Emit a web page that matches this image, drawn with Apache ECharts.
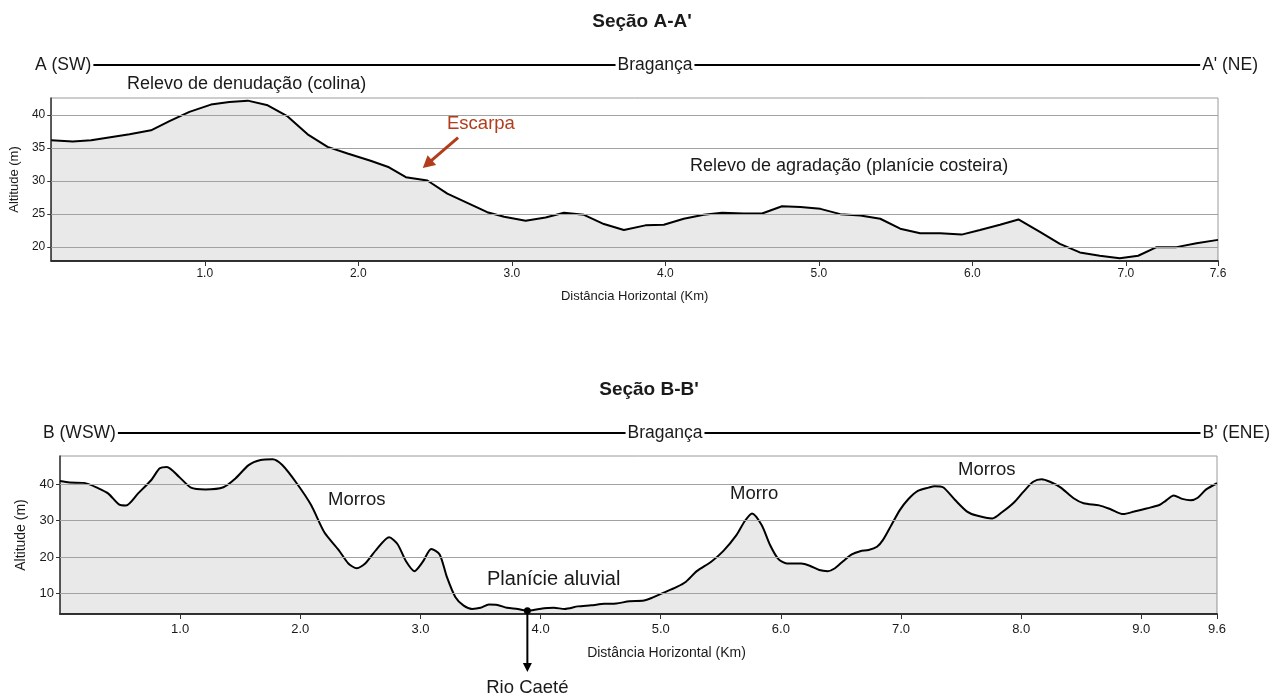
<!DOCTYPE html>
<html>
<head>
<meta charset="utf-8">
<script src="https://cdn.jsdelivr.net/npm/echarts@6/dist/echarts.min.js"></script>
<style>
  html, body { margin: 0; padding: 0; background: #ffffff; }
  #chart { width: 1288px; height: 698px; }
</style>
</head>
<body>
<div id="chart"></div>
<script>
// ---- Seção A-A' : distance (km) and altitude (m) along the profile ----
const sectionA_km = [0.00, 0.14, 0.26, 0.51, 0.65, 0.77, 0.90, 1.04, 1.16, 1.28, 1.41, 1.54, 1.67, 1.80, 1.93,
  2.08, 2.20, 2.31, 2.45, 2.58, 2.71, 2.84, 2.95, 3.09, 3.22, 3.34, 3.47, 3.60, 3.73, 3.87, 3.99, 4.12, 4.25,
  4.37, 4.51, 4.63, 4.76, 4.88, 5.01, 5.14, 5.27, 5.40, 5.53, 5.66, 5.79, 5.93, 6.05, 6.18, 6.30, 6.44, 6.57,
  6.70, 6.83, 6.96, 7.08, 7.20, 7.33, 7.46, 7.60];
const sectionA_alt = [36.2, 36.0, 36.2, 37.1, 37.7, 39.1, 40.5, 41.6, 42.0, 42.2, 41.5, 39.8, 37.1, 35.2, 34.2,
  33.1, 32.1, 30.6, 30.1, 28.1, 26.7, 25.3, 24.6, 24.0, 24.5, 25.2, 24.9, 23.5, 22.6, 23.3, 23.4, 24.3, 24.9,
  25.2, 25.1, 25.1, 26.2, 26.1, 25.8, 25.0, 24.8, 24.3, 22.8, 22.1, 22.1, 21.9, 22.6, 23.4, 24.2, 22.3, 20.5,
  19.2, 18.7, 18.3, 18.7, 20.0, 20.0, 20.6, 21.1];
const sectionA_xTicks = [1.0, 2.0, 3.0, 4.0, 5.0, 6.0, 7.0, 7.6];
const sectionA_yTicks = [20, 25, 30, 35, 40];
const sectionA_xRange = [0, 7.6];
const sectionA_yRange = [17.9, 42.6];
const escarpaArrow = [[2.65, 36.6], [2.42, 32.0]];   // tail, head (km, m)

// ---- Seção B-B' ----
const sectionB_km = [0.00, 0.08, 0.20, 0.32, 0.40, 0.49, 0.55, 0.65, 0.76, 0.83, 0.89, 0.99, 1.09, 1.21, 1.36,
  1.46, 1.57, 1.67, 1.77, 1.85, 1.97, 2.09, 2.20, 2.32, 2.40, 2.47, 2.54, 2.63, 2.74, 2.81, 2.88, 2.95, 3.02,
  3.09, 3.16, 3.22, 3.29, 3.36, 3.43, 3.50, 3.57, 3.64, 3.72, 3.81, 3.89, 3.99, 4.11, 4.20, 4.31, 4.42, 4.53,
  4.63, 4.74, 4.86, 4.93, 5.02, 5.13, 5.21, 5.30, 5.42, 5.52, 5.63, 5.70, 5.76, 5.84, 5.91, 5.98, 6.05, 6.17,
  6.24, 6.32, 6.39, 6.45, 6.52, 6.59, 6.66, 6.73, 6.80, 6.85, 6.92, 6.99, 7.06, 7.14, 7.23, 7.28, 7.35, 7.45,
  7.55, 7.63, 7.76, 7.84, 7.94, 8.02, 8.10, 8.17, 8.24, 8.33, 8.44, 8.52, 8.65, 8.74, 8.85, 8.94, 9.05, 9.15,
  9.20, 9.27, 9.34, 9.41, 9.47, 9.54, 9.63];
const sectionB_alt = [40.9, 40.5, 40.4, 38.9, 37.5, 34.5, 34.2, 37.5, 41.2, 44.4, 44.8, 42.1, 39.1, 38.6, 39.2,
  41.6, 45.3, 46.7, 46.9, 45.3, 40.3, 34.3, 26.8, 21.9, 18.2, 16.9, 18.2, 21.9, 25.4, 23.5, 18.8, 16.1, 18.7,
  22.2, 20.7, 14.5, 9.0, 6.6, 5.7, 6.0, 6.9, 6.8, 6.0, 5.7, 5.2, 5.7, 6.0, 5.7, 6.4, 6.7, 7.1,
  7.2, 7.8, 8.0, 8.8, 10.1, 11.7, 13.2, 16.1, 18.7, 21.6, 26.0, 29.9, 32.0, 28.8, 23.3, 19.4, 18.2, 18.2,
  17.6, 16.4, 16.1, 16.9, 18.9, 20.7, 21.6, 21.9, 22.8, 24.7, 28.8, 32.9, 35.9, 38.2, 39.1, 39.5, 39.2, 35.7,
  32.5, 31.4, 30.6, 32.3, 35.0, 38.0, 40.7, 41.4, 40.7, 39.1, 36.1, 34.8, 34.2, 33.2, 31.8, 32.5, 33.4, 34.3,
  35.4, 36.9, 36.0, 35.6, 36.3, 38.6, 40.3];
const sectionB_xTicks = [1.0, 2.0, 3.0, 4.0, 5.0, 6.0, 7.0, 8.0, 9.0, 9.63];
const sectionB_yTicks = [10, 20, 30, 40];
const sectionB_xRange = [0, 9.63];
const sectionB_yRange = [4.3, 47.8];
const rioCaete = [3.89, 5.2];   // river channel on the B-B' profile

const FONT = '"Liberation Sans", Arial, sans-serif';
const TEXT = '#1a1a1a';

function pairs(xs, ys) { return xs.map((x, i) => [x, ys[i]]); }

function xAxisFor(gi, range, ticks, fs, margin, gap, pad) {
  return {
    type: 'value', gridIndex: gi, min: range[0], max: range[1],
    name: 'Distância Horizontal (Km)', nameLocation: 'middle', nameGap: gap,
    nameTextStyle: { fontFamily: FONT, fontSize: fs + 1, color: TEXT, padding: pad },
    axisLine: { show: true, onZero: false, lineStyle: { color: '#333', width: 2 } },
    axisTick: { show: true, customValues: ticks, length: 5, lineStyle: { color: '#333', width: 1 } },
    axisLabel: { customValues: ticks, fontFamily: FONT, fontSize: fs, color: TEXT, margin: margin,
      formatter: v => v.toFixed(1) },
    splitLine: { show: false }
  };
}

function yAxisFor(gi, range, ticks, fs, gap) {
  return {
    type: 'value', gridIndex: gi, min: range[0], max: range[1],
    name: 'Altitude (m)', nameLocation: 'middle', nameGap: gap, nameRotate: 90,
    nameTextStyle: { fontFamily: FONT, fontSize: fs + 1, color: TEXT },
    axisLine: { show: true, lineStyle: { color: '#333', width: 1.5 } },
    axisTick: { show: true, customValues: ticks, length: 4, lineStyle: { color: '#333', width: 1 } },
    axisLabel: { customValues: ticks, fontFamily: FONT, fontSize: fs, color: TEXT, margin: 6 },
    splitLine: { show: false }
  };
}

function profileSeries(gi, xs, ys, ticks, smooth) {
  return {
    type: 'line', xAxisIndex: gi, yAxisIndex: gi,
    data: pairs(xs, ys), showSymbol: false, smooth: smooth,
    lineStyle: { color: '#000', width: 2 },
    areaStyle: { color: 'rgba(0,0,0,0.125)', origin: 'start' },
    silent: true, animation: false,
    markLine: {
      silent: true, symbol: 'none', animation: false,
      label: { show: false },
      lineStyle: { type: 'solid', color: '#a2a2a2', width: 1.2 },
      data: ticks.map(v => ({ yAxis: v }))
    },
    z: 3
  };
}

const chart = echarts.init(document.getElementById('chart'), null, { renderer: 'canvas' });

chart.setOption({
  backgroundColor: '#ffffff',
  animation: false,
  grid: [
    { left: 51, top: 98, width: 1167, height: 163, show: true, borderColor: '#9a9a9a', borderWidth: 1, backgroundColor: 'transparent' },
    { left: 60, top: 456, width: 1157, height: 158, show: true, borderColor: '#9a9a9a', borderWidth: 1, backgroundColor: 'transparent' }
  ],
  xAxis: [
    xAxisFor(0, sectionA_xRange, sectionA_xTicks, 12, 7, 29, [0, 0, 0, 0]),
    xAxisFor(1, sectionB_xRange, sectionB_xTicks, 13, 9, 32, [0, 0, 0, 56])
  ],
  yAxis: [
    yAxisFor(0, sectionA_yRange, sectionA_yTicks, 12, 27),
    yAxisFor(1, sectionB_yRange, sectionB_yTicks, 13, 28)
  ],
  series: [
    profileSeries(0, sectionA_km, sectionA_alt, sectionA_yTicks, false),
    profileSeries(1, sectionB_km, sectionB_alt, sectionB_yTicks, 0.25)
  ]
});

// ---- annotations ----
const measureCtx = document.createElement('canvas').getContext('2d');
function textWidth(str, size, weight) {
  measureCtx.font = (weight || 'normal') + ' ' + size + 'px ' + FONT;
  return measureCtx.measureText(str).width;
}
function txt(str, x, y, opts) {
  opts = opts || {};
  return {
    type: 'text', x: x, y: y, silent: true, z: 20,
    style: {
      text: str, fill: opts.color || TEXT, fontFamily: FONT,
      fontSize: opts.size || 16, fontWeight: opts.weight || 'normal',
      align: opts.align || 'left', verticalAlign: 'middle'
    }
  };
}
function seg(x1, y1, x2, y2, color, width) {
  return { type: 'line', silent: true, z: 20,
    shape: { x1: x1, y1: y1, x2: x2, y2: y2 },
    style: { stroke: color, lineWidth: width } };
}
function arrowHead(tip, from, len, half, color) {
  const dx = tip[0] - from[0], dy = tip[1] - from[1];
  const d = Math.hypot(dx, dy), ux = dx / d, uy = dy / d;
  const bx = tip[0] - ux * len, by = tip[1] - uy * len;
  return { type: 'polygon', silent: true, z: 21,
    shape: { points: [tip, [bx - uy * half, by + ux * half], [bx + uy * half, by - ux * half]] },
    style: { fill: color } };
}
// header rule: left label —— centre label —— right label
function headerRule(y, left, leftX, centre, centreX, right, rightX, size) {
  const wl = textWidth(left, size), wc = textWidth(centre, size), wr = textWidth(right, size);
  const out = [];
  out.push(txt(left, leftX, y, { size: size }));
  out.push(txt(centre, centreX, y, { size: size, align: 'center' }));
  out.push(txt(right, rightX, y, { size: size, align: 'right' }));
  out.push(seg(leftX + wl + 2, y, centreX - wc / 2 - 2, y, '#000', 2));
  out.push(seg(centreX + wc / 2 + 2, y, rightX - wr - 2, y, '#000', 2));
  return out;
}

const px = (gi, pt) => chart.convertToPixel({ gridIndex: gi }, pt);

const g = [];
g.push(txt("Seção A-A'", 642, 22, { size: 19, weight: 'bold', align: 'center' }));
g.push(...headerRule(65, 'A (SW)', 35, 'Bragança', 655, "A' (NE)", 1258, 17.5));
g.push(txt('Relevo de denudação (colina)', 127, 84, { size: 18 }));
g.push(txt('Relevo de agradação (planície costeira)', 690, 166, { size: 18 }));
g.push(txt('Escarpa', 447, 124, { size: 18.5, color: '#b23c1c' }));
const eTail = px(0, escarpaArrow[0]), eTip = px(0, escarpaArrow[1]);
g.push(seg(eTail[0], eTail[1], eTip[0] + (eTail[0] - eTip[0]) * 0.2, eTip[1] + (eTail[1] - eTip[1]) * 0.2, '#b23c1c', 3));
g.push(arrowHead(eTip, eTail, 12, 6.5, '#b23c1c'));

g.push(txt("Seção B-B'", 649, 390, { size: 19, weight: 'bold', align: 'center' }));
g.push(...headerRule(433, 'B (WSW)', 43, 'Bragança', 665, "B' (ENE)", 1270, 17.5));
g.push(txt('Morros', 328, 500, { size: 18.5 }));
g.push(txt('Morro', 730, 494, { size: 18.5 }));
g.push(txt('Morros', 958, 470, { size: 18.5 }));
g.push(txt('Planície aluvial', 487, 579, { size: 20 }));
const rc = px(1, rioCaete);
g.push({ type: 'circle', silent: true, z: 21, shape: { cx: rc[0], cy: rc[1], r: 3.5 }, style: { fill: '#000' } });
g.push(seg(rc[0], rc[1], rc[0], 664, '#000', 2));
g.push(arrowHead([rc[0], 672], [rc[0], rc[1]], 9, 4.5, '#000'));
g.push(txt('Rio Caeté', rc[0], 688, { size: 18.5, align: 'center' }));

chart.setOption({ graphic: { elements: g } });
</script>
</body>
</html>
